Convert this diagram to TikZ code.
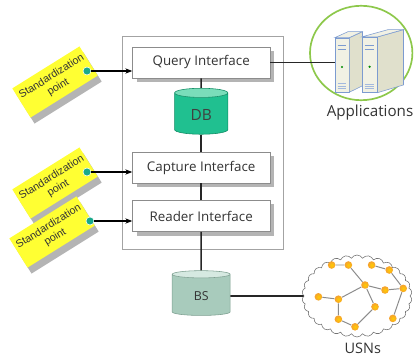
\documentclass[tikz,border=0pt]{standalone}
\usepackage{fontspec}
\setmainfont{Open Sans}
\newfontfamily\labelfont{Liberation Sans}
\usetikzlibrary{arrows.meta,shapes.geometric,shapes.symbols,shadows,calc}
\definecolor{boxgray}{HTML}{8C8C8C}
\definecolor{shadowgray}{HTML}{B4B4B4}
\definecolor{stdyellow}{HTML}{FFFF33}
\definecolor{dotteal}{HTML}{18A98A}
\definecolor{dbgreen}{HTML}{20C090}
\definecolor{dbtop}{HTML}{7ADDBA}
\definecolor{dbedge}{HTML}{0E8A62}
\definecolor{bsbody}{HTML}{A8CBBC}
\definecolor{bstop}{HTML}{D6E9E1}
\definecolor{bsedge}{HTML}{7D9F90}
\definecolor{appgreen}{HTML}{8DC84B}
\definecolor{srvblue}{HTML}{7C9BD0}
\definecolor{srvfill}{HTML}{F1F1E4}
\definecolor{srvside}{HTML}{E0E0CC}
\definecolor{usnorange}{HTML}{F5A030}
\definecolor{usnedge}{HTML}{8C8C8C}

\begin{document}
\begin{tikzpicture}[
    every node/.style={font=\fontsize{9.5}{11}\selectfont, text=black!80},
    iface/.style={rectangle, draw=boxgray, fill=white,
        minimum width=3.43cm, minimum height=0.78cm,
        drop shadow={shadow xshift=0.1cm, shadow yshift=-0.1cm, fill=shadowgray, opacity=1}},
    stdpt/.style={rectangle, fill=stdyellow, rotate=32, align=center, inner sep=1pt,
        minimum width=1.98cm, minimum height=0.86cm, font=\labelfont\fontsize{7.6}{8.8}\selectfont,
        drop shadow={shadow xshift=0.1cm, shadow yshift=-0.15cm, fill=shadowgray, opacity=1}},
    spdot/.style={circle, fill=dotteal, draw=white, thin, inner sep=0pt, minimum size=0.2cm},
    link/.style={line width=1.1pt, black!85},
    srv/.style={draw=srvblue, fill=srvfill, thin},
    sensor/.style={circle, inner sep=0pt, minimum size=0.19cm, shading=radial,
        inner color=yellow!60!orange, outer color=usnorange},
]

\useasboundingbox (0,0) rectangle (10.375,9);

% Middleware frame
\node[rectangle, draw=boxgray!80, minimum width=4.025cm, minimum height=5.325cm] (mw) at (5.0625,5.4375) {};

% Interfaces
\node[iface] (qi) at (5.03,7.44) {Query Interface};
\node[iface] (ci) at (5.03,4.81) {Capture Interface};
\node[iface] (ri) at (5.03,3.6) {Reader Interface};

% Repository and base station
\node[cylinder, shape border rotate=90, aspect=0.3, draw=dbedge, cylinder uses custom fill,
    cylinder end fill=dbtop, cylinder body fill=dbgreen, minimum width=1.33cm, minimum height=1.15cm,
    font=\fontsize{11}{12}\selectfont, text=black!75] (db) at (5.03,6.125) {DB};
\node[cylinder, shape border rotate=90, aspect=0.3, draw=bsedge, cylinder uses custom fill,
    cylinder end fill=bstop, cylinder body fill=bsbody, minimum width=1.45cm, minimum height=1.12cm,
    font=\fontsize{8.8}{10}\selectfont] (bs) at (5.03,1.6) {BS};

% Standardization points
\node[stdpt] (s1) at (1.375,6.95) {Standardization\\point};
\node[stdpt] (s2) at (1.375,4.425) {Standardization\\point};
\node[stdpt] (s3) at (1.3,3.2) {Standardization\\point};
\node[spdot] (d1) at (2.175,7.225) {};
\node[spdot] (d2) at (2.175,4.7) {};
\node[spdot] (d3) at (2.25,3.475) {};
\draw[-{Stealth[length=5pt]}, line width=0.8pt] (d1) -- (d1 -| qi.west);
\draw[-{Stealth[length=5pt]}, line width=0.8pt] (d2) -- (d2 -| ci.west);
\draw[-{Stealth[length=5pt]}, line width=0.8pt] (d3) -- (d3 -| ri.west);

% Applications
\node[ellipse, draw=appgreen, line width=1.2pt, minimum width=2.56cm, minimum height=2.36cm] (app) at (9.03,7.675) {};
\node[srv, inner sep=0pt, minimum width=0.35cm, minimum height=1.35cm] (srvA) at (8.55,7.375) {};
\draw[srv, fill=srvside] (srvA.north east) -- ++(0.33,0.15) -- ++(0,-1.35) -- (srvA.south east) -- cycle;
\draw[srv] (srvA.north west) -- ++(0.33,0.15) -- ++(0.35,0) -- (srvA.north east) -- cycle;
\draw[srvblue] ($(srvA.north west)+(0.07,-0.2)$) -- ++(0.21,0) ($(srvA.north west)+(0.07,-0.3)$) -- ++(0.21,0);
\draw[srvblue!70] ($(srvA.south west)+(0.07,0.1)$) -- ++(0.21,0) ++(-0.21,0.06) -- ++(0.21,0) ++(-0.21,0.06) -- ++(0.21,0);
\fill[green!55!black] ($(srvA.center)+(0,-0.05)$) circle (0.03);
\node[srv, inner sep=0pt, minimum width=0.38cm, minimum height=1.38cm] (srvB) at (9.24,7.38) {};
\draw[srv, fill=srvside] (srvB.north east) -- ++(0.65,0.18) -- ++(0,-1.38) -- (srvB.south east) -- cycle;
\draw[srv] (srvB.north west) -- ++(0.65,0.18) -- ++(0.38,0) -- (srvB.north east) -- cycle;
\draw[srvblue] ($(srvB.north west)+(0.07,-0.2)$) -- ++(0.24,0) ($(srvB.north west)+(0.07,-0.3)$) -- ++(0.24,0);
\draw[srvblue!70] ($(srvB.south west)+(0.07,0.1)$) -- ++(0.24,0) ++(-0.24,0.06) -- ++(0.24,0) ++(-0.24,0.06) -- ++(0.24,0);
\fill[green!55!black] ($(srvB.center)+(0,-0.05)$) circle (0.03);
\node[font=\fontsize{10.8}{12}\selectfont] (applbl) at (9.25,6.18) {Applications};

% Sensor network
\node[cloud, draw=black!55, fill=white, cloud puffs=30, cloud puff arc=120, aspect=1.3,
    minimum width=2.75cm, minimum height=2.05cm] (usn) at (8.925,1.6) {};
\node[sensor] (n1) at (8.29,2.375) {};
\node[sensor] (n2) at (8.71,2.375) {};
\node[sensor] (n3) at (9.29,2.375) {};
\node[sensor] (n4) at (9.73,2.25) {};
\node[sensor] (n5) at (9.125,1.875) {};
\node[sensor] (n6) at (9.625,1.75) {};
\node[sensor] (n7) at (10.08,1.79) {};
\node[sensor] (n8) at (7.96,1.58) {};
\node[sensor] (n9) at (8.46,1.52) {};
\node[sensor] (n10) at (9.375,1.33) {};
\node[sensor] (n11) at (8.46,1.02) {};
\node[sensor] (n12) at (8.875,0.83) {};
\node[sensor] (n13) at (9.82,1.04) {};
\draw[usnedge, line width=0.7pt] (n1) -- (n2) (n2) -- (n5) (n3) -- (n4) (n4) -- (n7)
    (n5) -- (n6) (n6) -- (n7) (n5) -- (n9) (n8) -- (n9) (n9) -- (n11)
    (n11) -- (n12) (n12) -- (n10) (n10) -- (n5) (n7) -- (n13);
\node[font=\fontsize{10.3}{12}\selectfont] (usnlbl) at (9.07,0.3) {USNs};

% Links
\draw[link] (qi) -- (db);
\draw[link] (db) -- (ci);
\draw[link] (ci) -- (ri);
\draw[link] (ri) -- (bs);
\draw[link] (bs) -- (usn);
\draw[link] (qi.east) -- (qi.east -| srvA.west);

\end{tikzpicture}
\end{document}
